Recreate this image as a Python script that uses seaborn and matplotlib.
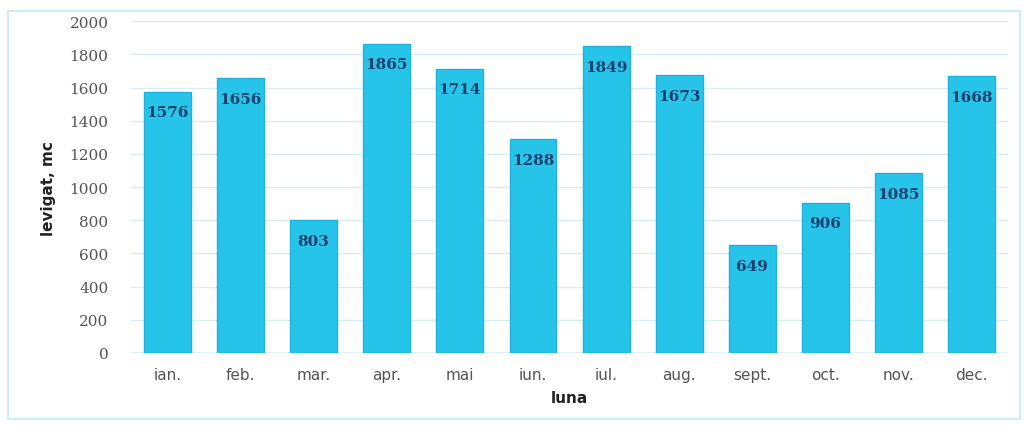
import matplotlib
matplotlib.use("Agg")
import matplotlib.pyplot as plt
import seaborn as sns
import pandas as pd
from matplotlib.patches import Rectangle

months = ["ian.", "feb.", "mar.", "apr.", "mai", "iun.", "iul.", "aug.", "sept.", "oct.", "nov.", "dec."]
values = [1576, 1656, 803, 1865, 1714, 1288, 1849, 1673, 649, 906, 1085, 1668]
yticks = [0, 200, 400, 600, 800, 1000, 1200, 1400, 1600, 1800, 2000]

df = pd.DataFrame({"luna": months, "val": values})

sns.set_style("white")
plt.rcParams['font.family'] = ['DejaVu Sans']

fig = plt.figure(figsize=(10.29, 4.27), dpi=100)
ax = fig.add_axes([0.127, 0.171, 0.853, 0.777])

sns.barplot(data=df, x="luna", y="val", color="#27c4ea", saturation=1, width=0.64,
            edgecolor="#1fb3dc", linewidth=1, ax=ax, zorder=3)

ax.set_ylim(0, 2000)
ax.set_yticks(yticks)
ax.set_yticklabels([str(v) for v in yticks], fontsize=11, color="#555555", family="DejaVu Serif")
ax.tick_params(axis="x", labelsize=11, colors="#555555", length=0, pad=10)
ax.tick_params(axis="y", length=0, pad=16)
ax.grid(axis="y", color="#d8eef2", linewidth=1, zorder=0)
for s in ax.spines.values():
    s.set_visible(False)
ax.axhline(0, color="#d8eef2", linewidth=1.2, zorder=1)

ax.set_xlabel("luna", fontsize=11, fontweight="bold", color="#222222", labelpad=6)
ax.set_ylabel("levigat, mc", fontsize=11, fontweight="bold", color="#222222", labelpad=10)

ax.bar_label(ax.containers[0], labels=[str(v) for v in values], padding=-20,
             fontsize=11, color="#1d3f6e", fontweight="bold", family="DejaVu Serif")

fig.patches.append(Rectangle((0.008, 0.016), 0.983, 0.955, transform=fig.transFigure,
                             fill=False, edgecolor="#cdeff5", linewidth=1.5))

fig.savefig("out.png", dpi=100, facecolor="white")
